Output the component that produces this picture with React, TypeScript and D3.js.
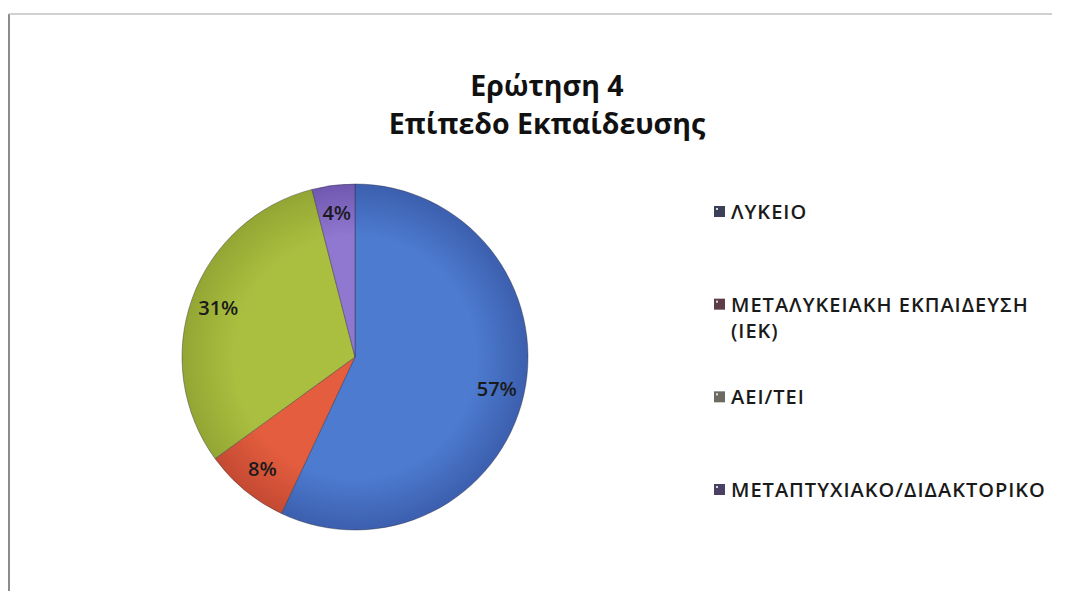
import React from "react";
import * as d3 from "d3";

const categories = [
  "ΛΥΚΕΙΟ",
  "ΜΕΤΑΛΥΚΕΙΑΚΗ ΕΚΠΑΙΔΕΥΣΗ (ΙΕΚ)",
  "ΑΕΙ/ΤΕΙ",
  "ΜΕΤΑΠΤΥΧΙΑΚΟ/ΔΙΔΑΚΤΟΡΙΚΟ",
];
const values = [57, 8, 31, 4];
const legendLines = [
  ["ΛΥΚΕΙΟ"],
  ["ΜΕΤΑΛΥΚΕΙΑΚΗ ΕΚΠΑΙΔΕΥΣΗ", "(ΙΕΚ)"],
  ["ΑΕΙ/ΤΕΙ"],
  ["ΜΕΤΑΠΤΥΧΙΑΚΟ/ΔΙΔΑΚΤΟΡΙΚΟ"],
];
const titleLines = ["Ερώτηση 4", "Επίπεδο Εκπαίδευσης"];

const sliceLight = ["#4d7bd0", "#e45d3e", "#aabf40", "#9078d0"];
const sliceDark = ["#3c5fae", "#c44a32", "#93a634", "#7058b0"];
const markerColors = ["#3c3f58", "#5c3c46", "#6e6a62", "#4a4064"];

const W = 1065;
const H = 591;
const cx = 355;
const cy = 357;
const R = 173;

export default function App() {
  const pie = d3.pie<number>().sort(null).value((d) => d)(values);
  const arc = d3.arc<d3.PieArcDatum<number>>().innerRadius(0).outerRadius(R);
  const labelArc = d3
    .arc<d3.PieArcDatum<number>>()
    .innerRadius(R * 0.84)
    .outerRadius(R * 0.84);
  const total = d3.sum(values);
  const legendY = d3
    .scalePoint<number>()
    .domain(d3.range(categories.length))
    .range([212, 490]);

  return (
    <svg
      width={W}
      height={H}
      style={{ position: "absolute", left: 0, top: 0, background: "#ffffff" }}
      fontFamily="'Open Sans', sans-serif"
    >
      <defs>
        {values.map((_, i) => (
          <radialGradient
            key={i}
            id={`g${i}`}
            cx={0}
            cy={0}
            r={R}
            gradientUnits="userSpaceOnUse"
          >
            <stop offset="0%" stopColor={sliceLight[i]} />
            <stop offset="70%" stopColor={sliceLight[i]} />
            <stop offset="100%" stopColor={sliceDark[i]} />
          </radialGradient>
        ))}
      </defs>
      {/* frame */}
      <line x1={9} y1={14} x2={9} y2={H} stroke="#8a8a90" strokeWidth={2} />
      <line x1={9} y1={14} x2={1052} y2={14} stroke="#c0c0c4" strokeWidth={1.5} />

      {/* title */}
      {titleLines.map((t, i) => (
        <text
          key={i}
          x={547}
          y={96 + i * 38}
          textAnchor="middle"
          fontSize={28.5}
          fontWeight={700}
          fill="#111"
        >
          {t}
        </text>
      ))}

      {/* pie */}
      <g transform={`translate(${cx},${cy})`}>
        {pie.map((p, i) => (
          <path
            key={i}
            d={arc(p) || ""}
            fill={`url(#g${i})`}
            stroke="#2a2a3a"
            strokeOpacity={0.4}
            strokeWidth={1}
          />
        ))}
        {pie.map((p, i) => {
          const [x, y] = labelArc.centroid(p);
          return (
            <text
              key={i}
              x={x}
              y={y}
              dy="0.35em"
              textAnchor="middle"
              fontSize={20}
              fontWeight={600}
              fill="#1a1a1a"
            >
              {`${Math.round((p.value / total) * 100)}%`}
            </text>
          );
        })}
      </g>

      {/* legend */}
      {categories.map((c, i) => (
        <g key={c} transform={`translate(714,${legendY(i)})`}>
          <rect x={0} y={-6} width={11} height={11} fill={markerColors[i]} />
          <rect x={2} y={-4} width={2} height={2} fill="#ffffff" opacity={0.8} />
          {legendLines[i].map((ln, j) => (
            <text
              key={j}
              x={17}
              y={j * 26}
              dy="0.35em"
              fontSize={20}
              fontWeight={600}
              letterSpacing={1}
              fill="#1a1a1a"
            >
              {ln}
            </text>
          ))}
        </g>
      ))}
    </svg>
  );
}
